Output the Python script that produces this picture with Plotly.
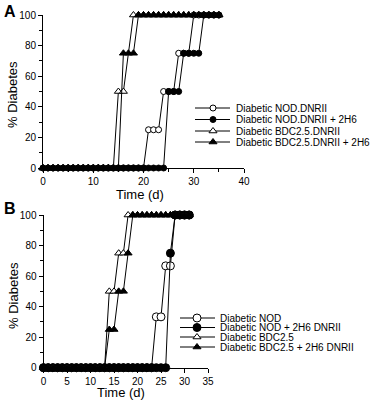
import plotly.graph_objects as go

W, H = 371, 402
FONT = "Liberation Sans, Arial, Helvetica, sans-serif"

# ---------------- Panel A data ----------------
days_a = list(range(0, 36))
nod_dnrii = [0, 0, 0, 0, 0, 0, 0, 0, 0, 0,
             0, 0, 0, 0, 0, 0, 0, 0, 0, 0,
             0, 25, 25, 25, 50, 50, 50, 75, 75, 75,
             100, 100, 100, 100, 100, 100]
nod_dnrii_2h6 = [0, 0, 0, 0, 0, 0, 0, 0, 0, 0,
                 0, 0, 0, 0, 0, 0, 0, 0, 0, 0,
                 0, 0, 0, 0, 0, 50, 50, 50, 75, 75,
                 75, 75, 100, 100, 100, 100]
days_bdc_a = [0, 1, 2, 3, 4, 5, 6, 7, 8, 9, 10, 11, 12, 13, 14, 15, 16,
              18, 19, 20, 21, 22, 23, 24, 25, 26, 27, 28, 29, 30, 31, 32, 33, 34, 35]
bdc_dnrii = [0, 0, 0, 0, 0, 0, 0, 0, 0, 0, 0, 0, 0, 0, 0, 50, 50,
             100, 100, 100, 100, 100, 100, 100, 100, 100, 100, 100, 100, 100, 100, 100, 100, 100, 100]
bdc_dnrii_2h6 = [0, 0, 0, 0, 0, 0, 0, 0, 0, 0,
                 0, 0, 0, 0, 0, 0, 75, 75, 75, 100,
                 100, 100, 100, 100, 100, 100, 100, 100, 100, 100,
                 100, 100, 100, 100, 100, 100]
labels_a = ["Diabetic NOD.DNRII", "Diabetic NOD.DNRII + 2H6",
            "Diabetic BDC2.5.DNRII", "Diabetic BDC2.5.DNRII + 2H6"]

# ---------------- Panel B data ----------------
days_b = list(range(0, 32))
nod = [0, 0, 0, 0, 0, 0, 0, 0, 0, 0,
       0, 0, 0, 0, 0, 0, 0, 0, 0, 0,
       0, 0, 0, 0, 33.3, 33.3, 66.7, 66.7, 100, 100,
       100, 100]
nod_2h6 = [0, 0, 0, 0, 0, 0, 0, 0, 0, 0,
           0, 0, 0, 0, 0, 0, 0, 0, 0, 0,
           0, 0, 0, 0, 0, 0, 0, 75, 100, 100,
           100, 100]
bdc = [0, 0, 0, 0, 0, 0, 0, 0, 0, 0,
       0, 0, 0, 0, 50, 50, 75, 75, 100, 100,
       100, 100, 100, 100, 100, 100, 100, 100, 100, 100,
       100, 100]
bdc_2h6 = [0, 0, 0, 0, 0, 0, 0, 0, 0, 0,
           0, 0, 0, 0, 25, 25, 50, 50, 75, 100,
           100, 100, 100, 100, 100, 100, 100, 100, 100, 100,
           100, 100]
labels_b = ["Diabetic NOD", "Diabetic NOD + 2H6 DNRII",
            "Diabetic BDC2.5", "Diabetic BDC2.5 + 2H6 DNRII"]

ticks_a_x = [0, 10, 20, 30, 40]
ticks_b_x = [0, 5, 10, 15, 20, 25, 30, 35]
ticks_y = [0, 20, 40, 60, 80, 100]


def px(x):
    return x / W


def py(y):
    return 1 - y / H


fig = go.Figure()

styles_a = [
    dict(symbol="circle", color="white", size=6),
    dict(symbol="circle", color="black", size=6),
    dict(symbol="triangle-up", color="white", size=7),
    dict(symbol="triangle-up", color="black", size=7),
]
styles_b = [
    dict(symbol="circle", color="white", size=8),
    dict(symbol="circle", color="black", size=8),
    dict(symbol="triangle-up", color="white", size=7),
    dict(symbol="triangle-up", color="black", size=7),
]

series_a = [(days_a, nod_dnrii), (days_a, nod_dnrii_2h6),
            (days_bdc_a, bdc_dnrii), (days_a, bdc_dnrii_2h6)]
series_b = [(days_b, nod), (days_b, nod_2h6), (days_b, bdc), (days_b, bdc_2h6)]

for (xs, ys), st, name in zip(series_a, styles_a, labels_a):
    fig.add_trace(go.Scatter(
        x=xs, y=ys, mode="lines+markers", name=name, xaxis="x", yaxis="y",
        line=dict(color="black", width=1), cliponaxis=False,
        marker=dict(symbol=st["symbol"], size=st["size"], color=st["color"],
                    line=dict(color="black", width=1))))

for (xs, ys), st, name in zip(series_b, styles_b, labels_b):
    fig.add_trace(go.Scatter(
        x=xs, y=ys, mode="lines+markers", name=name, xaxis="x2", yaxis="y2",
        line=dict(color="black", width=1), cliponaxis=False,
        marker=dict(symbol=st["symbol"], size=st["size"], color=st["color"],
                    line=dict(color="black", width=1))))

# ---------------- custom legends (pixel overlay axis) ----------------
legend_a = dict(x0=195, x1=230, xm=213, xt=234, rows=[108, 119.5, 131, 142])
legend_b = dict(x0=180, x1=215, xm=197, xt=218, rows=[318, 327.5, 337, 347])

annotations = []
for leg, styles, labels in [(legend_a, styles_a, labels_a), (legend_b, styles_b, labels_b)]:
    for r, st, lab in zip(leg["rows"], styles, labels):
        fig.add_trace(go.Scatter(
            x=[leg["x0"], leg["x1"]], y=[r, r], mode="lines", xaxis="x3", yaxis="y3",
            line=dict(color="black", width=1), hoverinfo="skip", cliponaxis=False))
        fig.add_trace(go.Scatter(
            x=[leg["xm"]], y=[r], mode="markers", xaxis="x3", yaxis="y3",
            marker=dict(symbol=st["symbol"], size=st["size"], color=st["color"],
                        line=dict(color="black", width=1)),
            hoverinfo="skip", cliponaxis=False))
        annotations.append(dict(
            x=px(leg["xt"]), y=py(r), xref="paper", yref="paper", text=lab,
            showarrow=False, xanchor="left", yanchor="middle",
            font=dict(size=10, color="black", family=FONT)))

# panel letters and axis titles
annotations += [
    dict(x=px(2), y=py(1), text="<b>A</b>", showarrow=False, xanchor="left", yanchor="top",
         xref="paper", yref="paper", font=dict(size=16, color="black", family=FONT)),
    dict(x=px(2), y=py(198), text="<b>B</b>", showarrow=False, xanchor="left", yanchor="top",
         xref="paper", yref="paper", font=dict(size=16, color="black", family=FONT)),
    dict(x=px(13), y=py(95), text="% Diabetes", textangle=-90, showarrow=False,
         xref="paper", yref="paper", xanchor="center", yanchor="middle",
         font=dict(size=13, color="black", family=FONT)),
    dict(x=px(140), y=py(194), text="Time (d)", showarrow=False,
         xref="paper", yref="paper", xanchor="center", yanchor="middle",
         font=dict(size=13, color="black", family=FONT)),
    dict(x=px(13), y=py(296), text="% Diabetes", textangle=-90, showarrow=False,
         xref="paper", yref="paper", xanchor="center", yanchor="middle",
         font=dict(size=13, color="black", family=FONT)),
    dict(x=px(121), y=py(392), text="Time (d)", showarrow=False,
         xref="paper", yref="paper", xanchor="center", yanchor="middle",
         font=dict(size=13, color="black", family=FONT)),
]

axis_common = dict(showgrid=False, zeroline=False, showline=True, linecolor="black",
                   linewidth=1, ticks="outside", ticklen=4, tickcolor="black",
                   tickwidth=1, tickfont=dict(size=10, color="black", family=FONT),
                   fixedrange=True)

fig.update_layout(
    width=W, height=H, margin=dict(l=0, r=0, t=0, b=0, autoexpand=False),
    paper_bgcolor="white", plot_bgcolor="rgba(0,0,0,0)", showlegend=False,
    font=dict(family=FONT, color="black"),
    xaxis=dict(domain=[px(43), px(244)], range=[0, 40], anchor="y",
               tickvals=ticks_a_x,
               minor=dict(dtick=5, ticks="outside", ticklen=3, tickcolor="black"),
               **axis_common),
    yaxis=dict(domain=[py(168), py(15)], range=[0, 100], anchor="x",
               tickvals=ticks_y,
               minor=dict(dtick=10, ticks="outside", ticklen=3, tickcolor="black"),
               **axis_common),
    xaxis2=dict(domain=[px(43.5), px(208)], range=[0, 35], anchor="y2",
                tickvals=ticks_b_x, **axis_common),
    yaxis2=dict(domain=[py(367.7), py(215)], range=[0, 100], anchor="x2",
                tickvals=ticks_y,
                minor=dict(dtick=10, ticks="outside", ticklen=3, tickcolor="black"),
                **axis_common),
    xaxis3=dict(domain=[0, 1], range=[0, W], visible=False, anchor="y3", fixedrange=True),
    yaxis3=dict(domain=[0, 1], range=[H, 0], visible=False, anchor="x3", fixedrange=True),
    annotations=annotations,
)

fig.write_html("out.html", config={"displayModeBar": False},
               post_script="document.body.style.margin='0px';")
